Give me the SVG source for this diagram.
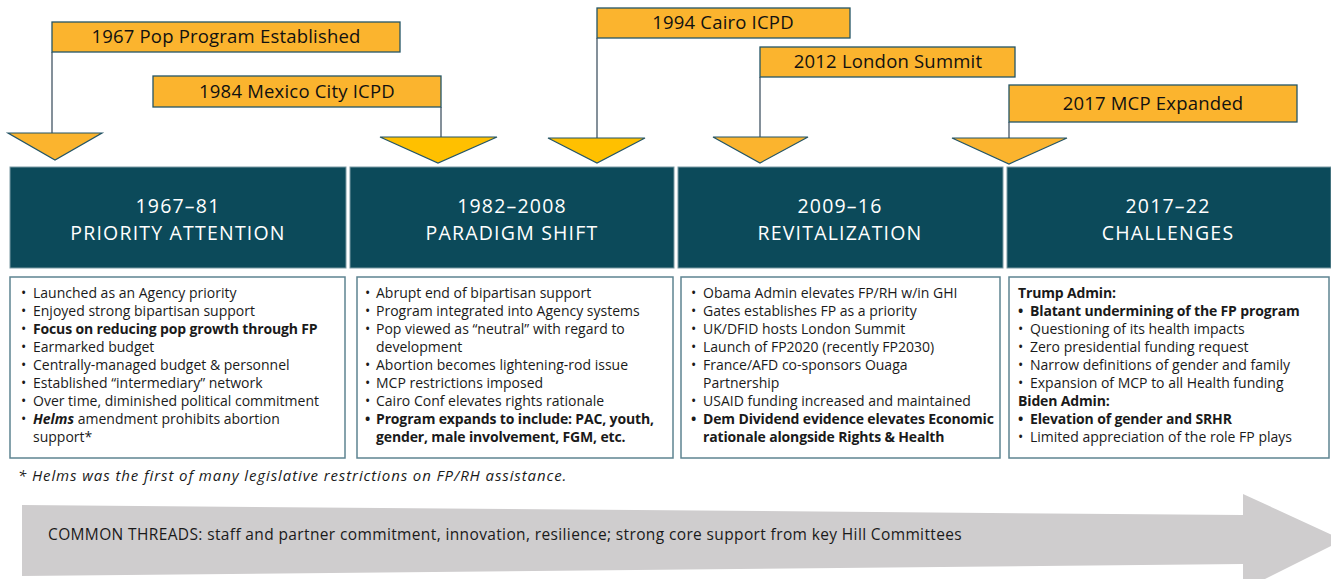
<svg xmlns="http://www.w3.org/2000/svg" width="1331" height="579" viewBox="0 0 1331 579">
<style>
.callout{fill:#FBB42E;stroke:#245566;stroke-width:1.3}
.ctext{font-family:"Open Sans","Liberation Sans",sans-serif;font-size:18.5px;letter-spacing:0.2px;fill:#111;text-anchor:middle}
.tri{fill:#FBB42E;stroke:#245566;stroke-width:1.2}
.tri2{fill:#FFC000;stroke:#245566;stroke-width:1.2}
.conn{stroke:#5B6B78;stroke-width:1.5;fill:none}
.hdr{fill:#0C4A5A;stroke:#7A9AA3;stroke-width:1}
.htext{font-family:"Open Sans","Liberation Sans",sans-serif;font-size:19.5px;letter-spacing:1.2px;fill:#fff;text-anchor:middle}
.body{fill:#fff;stroke:#5E8491;stroke-width:1.5}
.btext{font-family:"Open Sans","Liberation Sans",sans-serif;font-size:14px;fill:#1a1a1a}
.b{font-weight:bold;letter-spacing:-0.15px}
.note{font-family:"Open Sans","Liberation Sans",sans-serif;font-size:15px;letter-spacing:0.9px;font-style:italic;fill:#1a1a1a}
.thread{font-family:"Open Sans","Liberation Sans",sans-serif;font-size:15.5px;letter-spacing:0.37px;fill:#1a1a1a}
</style>

<g id="connectors">
<line class="conn" x1="52" y1="52" x2="52" y2="134"/>
<line class="conn" x1="441" y1="107" x2="441" y2="138"/>
<line class="conn" x1="597" y1="38" x2="597" y2="138"/>
<line class="conn" x1="760" y1="77" x2="760" y2="138"/>
<line class="conn" x1="1009" y1="122" x2="1009" y2="138"/>
</g>

<g id="tri-1967"><polygon class="tri" points="8,133 102,133 55,160"/></g>
<g id="tri-1984"><polygon class="tri2" points="380,137 497,137 438,163"/></g>
<g id="tri-1994"><polygon class="tri2" points="548,138 645,138 597,163"/></g>
<g id="tri-2012"><polygon class="tri" points="713,137 808,137 760,163"/></g>
<g id="tri-2017"><polygon class="tri" points="952,138 1067,138 1009,164"/></g>

<g id="callout-1967"><rect class="callout" x="52" y="22" width="348" height="30"/><text class="ctext" x="226" y="43">1967 Pop Program Established</text></g>
<g id="callout-1984"><rect class="callout" x="153" y="76" width="288" height="31"/><text class="ctext" x="297" y="98">1984 Mexico City ICPD</text></g>
<g id="callout-1994"><rect class="callout" x="597" y="8" width="253" height="30"/><text class="ctext" x="723" y="29">1994 Cairo ICPD</text></g>
<g id="callout-2012"><rect class="callout" x="760" y="47" width="255" height="30"/><text class="ctext" x="888" y="68">2012 London Summit</text></g>
<g id="callout-2017"><rect class="callout" x="1009" y="85" width="288" height="37"/><text class="ctext" x="1153" y="110">2017 MCP Expanded</text></g>

<g id="hdr-1"><rect class="hdr" x="10" y="167" width="336" height="101"/><text class="htext" x="178" y="213">1967–81</text><text class="htext" x="178" y="240">PRIORITY ATTENTION</text></g>
<g id="hdr-2"><rect class="hdr" x="350" y="167" width="324" height="101"/><text class="htext" x="512" y="213">1982–2008</text><text class="htext" x="512" y="240">PARADIGM SHIFT</text></g>
<g id="hdr-3"><rect class="hdr" x="678" y="167" width="325" height="101"/><text class="htext" x="840" y="213">2009–16</text><text class="htext" x="840" y="240">REVITALIZATION</text></g>
<g id="hdr-4"><rect class="hdr" x="1007" y="167" width="324" height="101"/><text class="htext" x="1168" y="213">2017–22</text><text class="htext" x="1168" y="240">CHALLENGES</text></g>

<g id="body-1">
<rect class="body" x="10" y="277" width="335" height="181"/>
<g class="btext">
<text x="21" y="298">•</text><text x="33" y="298">Launched as an Agency priority</text>
<text x="21" y="316">•</text><text x="33" y="316">Enjoyed strong bipartisan support</text>
<text x="21" y="334">•</text><text x="33" y="334" class="b">Focus on reducing pop growth through FP</text>
<text x="21" y="352">•</text><text x="33" y="352">Earmarked budget</text>
<text x="21" y="370">•</text><text x="33" y="370">Centrally-managed budget &amp; personnel</text>
<text x="21" y="388">•</text><text x="33" y="388">Established “intermediary” network</text>
<text x="21" y="406">•</text><text x="33" y="406">Over time, diminished political commitment</text>
<text x="21" y="424">•</text><text x="33" y="424"><tspan font-weight="bold" font-style="italic">Helms</tspan> amendment prohibits abortion</text>
<text x="33" y="442">support*</text>
</g>
</g>

<g id="body-2">
<rect class="body" x="357" y="277" width="316" height="181"/>
<g class="btext">
<text x="365" y="298">•</text><text x="376" y="298">Abrupt end of bipartisan support</text>
<text x="365" y="316">•</text><text x="376" y="316">Program integrated into Agency systems</text>
<text x="365" y="334">•</text><text x="376" y="334">Pop viewed as “neutral” with regard to</text>
<text x="376" y="352">development</text>
<text x="365" y="370">•</text><text x="376" y="370">Abortion becomes lightening-rod issue</text>
<text x="365" y="388">•</text><text x="376" y="388">MCP restrictions imposed</text>
<text x="365" y="406">•</text><text x="376" y="406">Cairo Conf elevates rights rationale</text>
<text x="365" y="424" class="b">•</text><text x="376" y="424" class="b">Program expands to include: PAC, youth,</text>
<text x="376" y="442" class="b">gender, male involvement, FGM, etc.</text>
</g>
</g>

<g id="body-3">
<rect class="body" x="681" y="277" width="319" height="181"/>
<g class="btext">
<text x="691" y="298">•</text><text x="703" y="298">Obama Admin elevates FP/RH w/in GHI</text>
<text x="691" y="316">•</text><text x="703" y="316">Gates establishes FP as a priority</text>
<text x="691" y="334">•</text><text x="703" y="334">UK/DFID hosts London Summit</text>
<text x="691" y="352">•</text><text x="703" y="352">Launch of FP2020 (recently FP2030)</text>
<text x="691" y="370">•</text><text x="703" y="370">France/AFD co-sponsors Ouaga</text>
<text x="703" y="388">Partnership</text>
<text x="691" y="406">•</text><text x="703" y="406">USAID funding increased and maintained</text>
<text x="691" y="424" class="b">•</text><text x="703" y="424" class="b">Dem Dividend evidence elevates Economic</text>
<text x="703" y="442" class="b">rationale alongside Rights &amp; Health</text>
</g>
</g>

<g id="body-4">
<rect class="body" x="1009" y="277" width="320" height="181"/>
<g class="btext">
<text x="1018" y="298" class="b">Trump Admin:</text>
<text x="1018" y="316" class="b">•</text><text x="1030" y="316" class="b">Blatant undermining of the FP program</text>
<text x="1018" y="334">•</text><text x="1030" y="334">Questioning of its health impacts</text>
<text x="1018" y="352">•</text><text x="1030" y="352">Zero presidential funding request</text>
<text x="1018" y="370">•</text><text x="1030" y="370">Narrow definitions of gender and family</text>
<text x="1018" y="388">•</text><text x="1030" y="388">Expansion of MCP to all Health funding</text>
<text x="1018" y="406" class="b">Biden Admin:</text>
<text x="1018" y="424" class="b">•</text><text x="1030" y="424" class="b">Elevation of gender and SRHR</text>
<text x="1018" y="442">•</text><text x="1030" y="442">Limited appreciation of the role FP plays</text>
</g>
</g>

<g id="footnote"><text class="note" x="18" y="481">* Helms was the first of many legislative restrictions on FP/RH assistance.</text></g>

<g id="threads">
<polygon fill="#CFCDCE" points="22,505 1243,515 1243,494 1343,540 1243,590 1243,564 22,576"/>
<text class="thread" x="48" y="540">COMMON THREADS: staff and partner commitment, innovation, resilience; strong core support from key Hill Committees</text>
</g>
</svg>
